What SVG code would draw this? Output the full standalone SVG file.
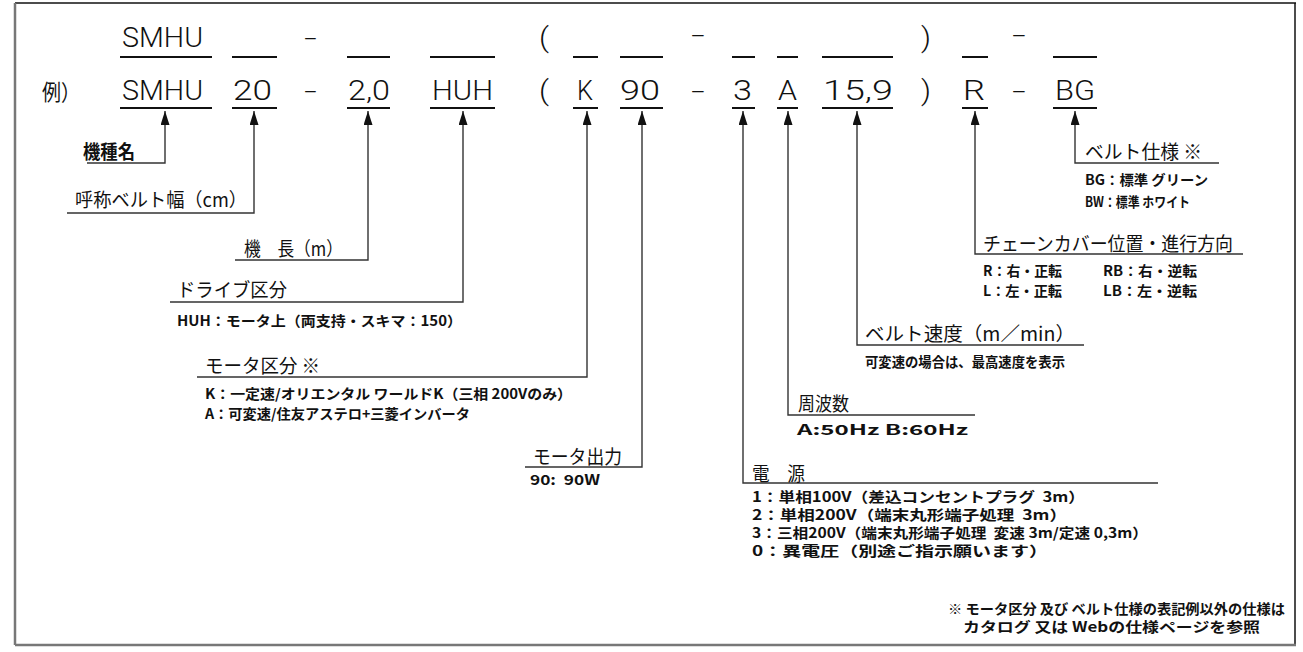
<svg xmlns="http://www.w3.org/2000/svg" width="1303" height="652" viewBox="0 0 1303 652">
<defs>
<style>
.code{font-family:Roboto,"Liberation Sans",sans-serif;font-weight:300;font-size:27px;fill:#111}
.hd{font-family:"Noto Sans CJK JP",sans-serif;font-size:19px;fill:#111}
.sub{font-family:"Noto Sans CJK JP",sans-serif;font-size:14px;font-weight:bold;fill:#111}
.ul{stroke:#111;stroke-width:2}
.ld{fill:none;stroke:#333;stroke-width:1.4}
</style>
<marker id="ah" viewBox="0 0 14 9" refX="14" refY="4.5" markerWidth="14" markerHeight="9" markerUnits="userSpaceOnUse" orient="auto">
<path d="M0,0 L14,4.5 L0,9 z" fill="#111"/>
</marker>
</defs>
<rect width="1303" height="652" fill="#fff"/>
<g id="frame">
<line x1="15" y1="3" x2="1296" y2="3" stroke="#111" stroke-width="1.5"/>
<line x1="1295" y1="3" x2="1295" y2="645" stroke="#111" stroke-width="1.5"/>
<line x1="15" y1="3" x2="15" y2="645" stroke="#777" stroke-width="2.5"/>
<line x1="15" y1="645" x2="1296" y2="645" stroke="#777" stroke-width="2.5"/>
</g>
<g id="row1">
<text class="code" x="122" y="47" textLength="81" lengthAdjust="spacingAndGlyphs">SMHU</text>
<line class="ul" x1="120" y1="57" x2="212" y2="57"/>
<line class="ul" x1="232" y1="57" x2="277" y2="57"/>
<text class="code" x="304" y="47" textLength="13" lengthAdjust="spacingAndGlyphs">-</text>
<line class="ul" x1="347" y1="57" x2="390" y2="57"/>
<line class="ul" x1="430" y1="57" x2="495" y2="57"/>
<text class="code" x="539" y="47" textLength="10" lengthAdjust="spacingAndGlyphs">(</text>
<line class="ul" x1="573" y1="57" x2="598" y2="57"/>
<line class="ul" x1="620" y1="57" x2="663" y2="57"/>
<text class="code" x="691" y="44" textLength="14" lengthAdjust="spacingAndGlyphs">-</text>
<line class="ul" x1="732" y1="57" x2="755" y2="57"/>
<line class="ul" x1="777" y1="57" x2="798" y2="57"/>
<line class="ul" x1="822" y1="57" x2="893" y2="57"/>
<text class="code" x="921" y="47" textLength="10" lengthAdjust="spacingAndGlyphs">)</text>
<line class="ul" x1="962" y1="57" x2="988" y2="57"/>
<text class="code" x="1012" y="44" textLength="14" lengthAdjust="spacingAndGlyphs">-</text>
<line class="ul" x1="1053" y1="57" x2="1097" y2="57"/>
</g>
<g id="row2">
<text x="42" y="100" font-family="Noto Sans CJK JP,sans-serif" font-size="22" fill="#111" textLength="38" lengthAdjust="spacingAndGlyphs">例）</text>
<text class="code" x="122" y="100" textLength="81" lengthAdjust="spacingAndGlyphs">SMHU</text>
<line class="ul" x1="120" y1="108" x2="212" y2="108"/>
<text class="code" x="233" y="100" textLength="39" lengthAdjust="spacingAndGlyphs">20</text>
<line class="ul" x1="232" y1="108" x2="277" y2="108"/>
<text class="code" x="304" y="100" textLength="13" lengthAdjust="spacingAndGlyphs">-</text>
<text class="code" x="348" y="100" textLength="42" lengthAdjust="spacingAndGlyphs">2,0</text>
<line class="ul" x1="347" y1="108" x2="390" y2="108"/>
<text class="code" x="432" y="100" textLength="61" lengthAdjust="spacingAndGlyphs">HUH</text>
<line class="ul" x1="430" y1="108" x2="495" y2="108"/>
<text class="code" x="539" y="100" textLength="10" lengthAdjust="spacingAndGlyphs">(</text>
<text class="code" x="577" y="100" textLength="16" lengthAdjust="spacingAndGlyphs">K</text>
<line class="ul" x1="573" y1="108" x2="598" y2="108"/>
<text class="code" x="620" y="100" textLength="40" lengthAdjust="spacingAndGlyphs">90</text>
<line class="ul" x1="620" y1="108" x2="663" y2="108"/>
<text class="code" x="691" y="100" textLength="14" lengthAdjust="spacingAndGlyphs">-</text>
<text class="code" x="733" y="100" textLength="19" lengthAdjust="spacingAndGlyphs">3</text>
<line class="ul" x1="732" y1="108" x2="755" y2="108"/>
<text class="code" x="778" y="100" textLength="19" lengthAdjust="spacingAndGlyphs">A</text>
<line class="ul" x1="777" y1="108" x2="798" y2="108"/>
<text class="code" x="823" y="100" textLength="70" lengthAdjust="spacingAndGlyphs">15,9</text>
<line class="ul" x1="822" y1="108" x2="893" y2="108"/>
<text class="code" x="921" y="100" textLength="10" lengthAdjust="spacingAndGlyphs">)</text>
<text class="code" x="963" y="100" textLength="22" lengthAdjust="spacingAndGlyphs">R</text>
<line class="ul" x1="962" y1="108" x2="988" y2="108"/>
<text class="code" x="1012" y="100" textLength="14" lengthAdjust="spacingAndGlyphs">-</text>
<text class="code" x="1055" y="100" textLength="40" lengthAdjust="spacingAndGlyphs">BG</text>
<line class="ul" x1="1053" y1="108" x2="1097" y2="108"/>
</g>
<g id="connectors">
<path class="ld" d="M87,163 H165 V111" marker-end="url(#ah)"/>
<path class="ld" d="M67,213 H254 V111" marker-end="url(#ah)"/>
<path class="ld" d="M235,260 H368 V111" marker-end="url(#ah)"/>
<path class="ld" d="M170,302 H463 V111" marker-end="url(#ah)"/>
<path class="ld" d="M197,377 H587 V111" marker-end="url(#ah)"/>
<path class="ld" d="M525,467 H642 V111" marker-end="url(#ah)"/>
<path class="ld" d="M1158,483 H743 V111" marker-end="url(#ah)"/>
<path class="ld" d="M975,415 H788 V111" marker-end="url(#ah)"/>
<path class="ld" d="M1084,345 H857 V111" marker-end="url(#ah)"/>
<path class="ld" d="M1243,254 H975 V111" marker-end="url(#ah)"/>
<path class="ld" d="M1219,163 H1075 V111" marker-end="url(#ah)"/>
</g>
<g id="n-kishu">
<text class="hd" x="83" y="159" font-weight="bold" textLength="52" lengthAdjust="spacingAndGlyphs">機種名</text>
</g>
<g id="n-haba">
<text class="hd" x="75" y="207" textLength="172" lengthAdjust="spacingAndGlyphs">呼称ベルト幅（cm）</text>
</g>
<g id="n-kicho">
<text class="hd" x="244" y="256" textLength="99" lengthAdjust="spacingAndGlyphs">機　長（m）</text>
</g>
<g id="n-drive">
<text class="hd" x="177" y="297" textLength="110" lengthAdjust="spacingAndGlyphs">ドライブ区分</text>
<text class="sub" x="177" y="326" font-size="15" textLength="285" lengthAdjust="spacingAndGlyphs">HUH：モータ上（両支持・スキマ：150）</text>
</g>
<g id="n-motor">
<text class="hd" x="205" y="373" textLength="115" lengthAdjust="spacingAndGlyphs">モータ区分 ※</text>
<text class="sub" x="205" y="399" textLength="367" lengthAdjust="spacingAndGlyphs">K：一定速/オリエンタル ワールドK（三相 200Vのみ）</text>
<text class="sub" x="205" y="419" textLength="265" lengthAdjust="spacingAndGlyphs">A：可変速/住友アステロ+三菱インバータ</text>
</g>
<g id="n-output">
<text class="hd" x="533" y="464" textLength="89" lengthAdjust="spacingAndGlyphs">モータ出力</text>
<text class="sub" x="530" y="485" textLength="70" lengthAdjust="spacingAndGlyphs">90:&#160;&#160;90W</text>
</g>
<g id="n-power">
<text class="hd" x="752" y="481" textLength="53" lengthAdjust="spacingAndGlyphs">電　源</text>
<text class="sub" x="752" y="502" textLength="333" lengthAdjust="spacingAndGlyphs">1：単相100V（差込コンセントプラグ&#160;&#160;3m）</text>
<text class="sub" x="752" y="520" textLength="315" lengthAdjust="spacingAndGlyphs">2：単相200V（端末丸形端子処理&#160;&#160;3m）</text>
<text class="sub" x="752" y="538" textLength="396" lengthAdjust="spacingAndGlyphs">3：三相200V（端末丸形端子処理&#160;&#160;変速 3m/定速 0,3m）</text>
<text class="sub" x="752" y="556" textLength="296" lengthAdjust="spacingAndGlyphs">0：異電圧（別途ご指示願います）</text>
</g>
<g id="n-freq">
<text class="hd" x="798" y="411" textLength="51" lengthAdjust="spacingAndGlyphs">周波数</text>
<text class="sub" x="797" y="435" textLength="171" lengthAdjust="spacingAndGlyphs">A:50Hz B:60Hz</text>
</g>
<g id="n-speed">
<text class="hd" x="865" y="341" textLength="210" lengthAdjust="spacingAndGlyphs">ベルト速度（m／min）</text>
<text class="sub" x="865" y="367" font-size="13.5" textLength="200" lengthAdjust="spacingAndGlyphs">可変速の場合は、最高速度を表示</text>
</g>
<g id="n-chain">
<text class="hd" x="983" y="251" textLength="250" lengthAdjust="spacingAndGlyphs">チェーンカバー位置・進行方向</text>
<text class="sub" x="983" y="276" textLength="79" lengthAdjust="spacingAndGlyphs">R：右・正転</text>
<text class="sub" x="1103" y="276" textLength="94" lengthAdjust="spacingAndGlyphs">RB：右・逆転</text>
<text class="sub" x="983" y="296" textLength="79" lengthAdjust="spacingAndGlyphs">L：左・正転</text>
<text class="sub" x="1103" y="296" textLength="94" lengthAdjust="spacingAndGlyphs">LB：左・逆転</text>
</g>
<g id="n-belt">
<text class="hd" x="1085" y="159" textLength="117" lengthAdjust="spacingAndGlyphs">ベルト仕様 ※</text>
<text class="sub" x="1085" y="185" textLength="123" lengthAdjust="spacingAndGlyphs">BG：標準 グリーン</text>
<text class="sub" x="1085" y="207" textLength="105" lengthAdjust="spacingAndGlyphs">BW：標準 ホワイト</text>
</g>
<g id="note">
<text class="sub" x="948" y="614" font-size="13.5" textLength="337" lengthAdjust="spacingAndGlyphs">※ モータ区分 及び ベルト仕様の表記例以外の仕様は</text>
<text class="sub" x="963" y="632" font-size="13.5" textLength="297" lengthAdjust="spacingAndGlyphs">カタログ 又は Webの仕様ページを参照</text>
</g>
</svg>
